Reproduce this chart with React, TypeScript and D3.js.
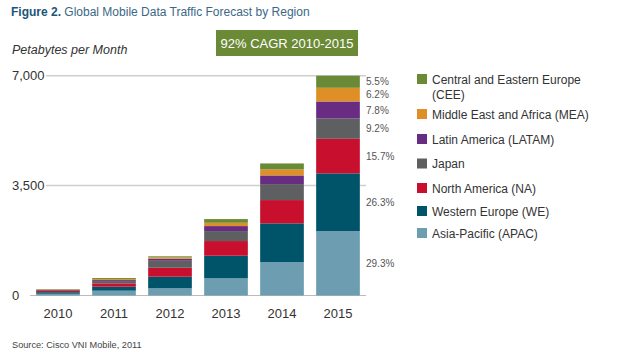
import React from "react";
import * as d3 from "d3";

// years on the x axis
const years = ["2010", "2011", "2012", "2013", "2014", "2015"];

// region keys, bottom to top of each stack
const regions = ["APAC", "WE", "NA", "Japan", "LATAM", "MEA", "CEE"];

// petabytes per month
const apac = [55, 153, 229, 547, 1066, 2050];
const we = [50, 127, 369, 719, 1231, 1840];
const na = [40, 106, 286, 468, 742, 1100];
const japan = [28, 73, 223, 318, 509, 645];
const latam = [12, 32, 64, 159, 276, 545];
const mea = [10, 32, 45, 105, 191, 435];
const cee = [10, 32, 32, 118, 191, 385];

const legendLabels = [
  ["Central and Eastern Europe", "(CEE)"],
  ["Middle East and Africa (MEA)"],
  ["Latin America (LATAM)"],
  ["Japan"],
  ["North America (NA)"],
  ["Western Europe (WE)"],
  ["Asia-Pacific (APAC)"],
];
const legendKeys = ["CEE", "MEA", "LATAM", "Japan", "NA", "WE", "APAC"];

const yTicks = [0, 3500, 7000];

const colors: Record<string, string> = {
  APAC: "#6d9db1",
  WE: "#00546a",
  NA: "#c8102e",
  Japan: "#5e5f61",
  LATAM: "#682d83",
  MEA: "#de9027",
  CEE: "#6a8a35",
};

const font = "'Liberation Sans', Arial, sans-serif";

export default function App() {
  const rows = years.map((y, i) => ({
    year: y,
    APAC: apac[i],
    WE: we[i],
    NA: na[i],
    Japan: japan[i],
    LATAM: latam[i],
    MEA: mea[i],
    CEE: cee[i],
  }));

  const series = d3.stack<any>().keys(regions)(rows);

  const x = d3.scaleBand().domain(years).range([30, 366]).paddingInner(0.22).paddingOuter(0.11);
  const y = d3.scaleLinear().domain([0, 7000]).range([295.5, 75.7]);

  const last = years.length - 1;
  const total = d3.sum(regions, (k) => (rows[last] as any)[k]);
  const pct = d3.format(".1%");

  const legendY = [79, 114, 139, 163.5, 188, 211, 233];

  return (
    <div style={{ position: "absolute", left: 0, top: 0 }}>
      <svg width={619} height={352} style={{ display: "block", fontFamily: font }}>
        <rect width={619} height={352} fill="#ffffff" />
        <text x={11} y={16} fontSize={12} fill="#3b6886">
          <tspan fontWeight="bold" fill="#1d5577">Figure 2.</tspan> Global Mobile Data Traffic Forecast by Region
        </text>

        <text x={12} y={54} fontSize={12.5} fontStyle="italic" fill="#333">
          Petabytes per Month
        </text>

        <rect x={216} y={30} width={142} height={26} fill="#6a8a35" />
        <text x={287} y={48} fontSize={13} fill="#fff" textAnchor="middle">
          92% CAGR 2010-2015
        </text>

        {yTicks.map((t) => (
          <g key={t}>
            <text x={12} y={y(t) + 4.5} fontSize={13} fill="#333">
              {d3.format(",")(t)}
            </text>
            {t > 0 ? (
              <line x1={46} x2={366} y1={y(t)} y2={y(t)} stroke="#cfcfcf" strokeWidth={1.5} />
            ) : (
              <line x1={30} x2={366} y1={y(t)} y2={y(t)} stroke="#bbb" strokeWidth={1} />
            )}
          </g>
        ))}

        {series.map((s) => (
          <g key={s.key} fill={colors[s.key]}>
            {s.map((d, i) => (
              <rect
                key={i}
                x={x(years[i])}
                y={y(d[1])}
                width={x.bandwidth()}
                height={y(d[0]) - y(d[1])}
              />
            ))}
          </g>
        ))}

        {series.map((s) => {
          const d = s[last];
          return (
            <text key={s.key} x={366} y={(y(d[0]) + y(d[1])) / 2 + 3.5} fontSize={10} fill="#555">
              {pct((d[1] - d[0]) / total)}
            </text>
          );
        })}

        {years.map((yr) => (
          <text key={yr} x={(x(yr) as number) + x.bandwidth() / 2} y={318} fontSize={13} fill="#333" textAnchor="middle">
            {yr}
          </text>
        ))}

        {legendKeys.map((k, i) => (
          <g key={k}>
            <rect x={417} y={legendY[i] - 5} width={10} height={10} fill={colors[k]} />
            {legendLabels[i].map((line, j) => (
              <text key={j} x={432} y={legendY[i] + 4.5 + j * 15.5} fontSize={12} fill="#333">
                {line}
              </text>
            ))}
          </g>
        ))}

        <text x={12} y={348} fontSize={9.2} fill="#444">
          Source: Cisco VNI Mobile, 2011
        </text>
      </svg>
    </div>
  );
}
